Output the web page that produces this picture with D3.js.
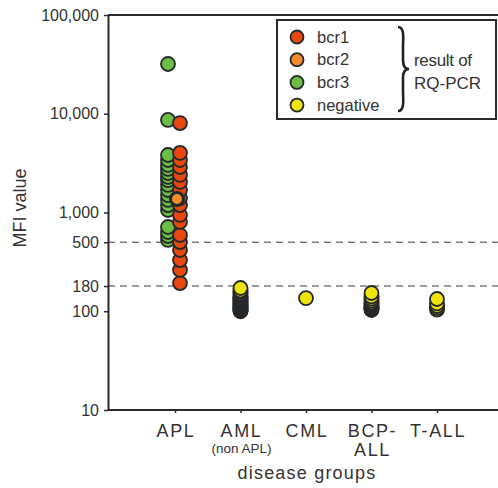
<!DOCTYPE html>
<html>
<head>
<meta charset="utf-8">
<script src="https://cdn.jsdelivr.net/npm/d3@7"></script>
<style>
  body { margin: 0; background: #fff; }
  svg { font-family: "Liberation Sans", Arial, sans-serif; }
</style>
</head>
<body>
<script>
// groups on the x axis
var groups = ["APL", "AML", "CML", "BCP-ALL", "T-ALL"];
var groupLine1 = ["APL", "AML", "CML", "BCP-", "T-ALL"];
var groupLine2 = ["", "(non APL)", "", "ALL", ""];

var yTicks = [10, 100, 180, 500, 1000, 10000, 100000];
var cutoffs = [180, 500];

// MFI values
var aplBcr3 = [31900, 8650, 3820, 3400, 3030, 2760, 2510, 2290, 2130, 1900, 1690, 1500, 1340, 1190, 1060, 713, 635, 578, 527];
var aplBcr1 = [8050, 4010, 3400, 2890, 2400, 2040, 1690, 1400, 1190, 944, 802, 592, 502, 417, 330, 262, 193];
var aplBcr2 = [1370];
var amlNeg = [100, 101, 103, 104, 106, 107, 109, 111, 113, 115, 117, 120, 122, 125, 128, 131, 134, 138, 142, 146, 151, 156, 162, 172];
var cmlNeg = [136];
var bcpNeg = [103, 105, 107, 108, 110, 113, 116, 119, 123, 128, 134, 141, 153];
var tallNeg = [104, 108, 113, 120, 133];

var legendNames = ["bcr1", "bcr2", "bcr3", "negative"];

var colors = {bcr1: "#e8470e", bcr2: "#f08c2a", bcr3: "#6cbd43", negative: "#efe40c"};

var width = 498, height = 488;
var mLeft = 108, mTop = 15, mBottom = 410;

var svg = d3.select("body").append("svg")
  .attr("width", width)
  .attr("height", height);

var y = d3.scaleLog().domain([10, 100000]).range([mBottom, mTop]);
var x = d3.scalePoint().domain(groups).range([175, 437]);

// dashed cut-off lines
svg.selectAll(".cut")
  .data(cutoffs)
  .enter()
  .append("line")
  .attr("x1", mLeft)
  .attr("x2", width)
  .attr("y1", function(d) { return y(d); })
  .attr("y2", function(d) { return y(d); })
  .attr("stroke", "#7a7a7a")
  .attr("stroke-width", 1.4)
  .attr("stroke-dasharray", "7,5");

// frame: top line
svg.append("line")
  .attr("x1", mLeft).attr("x2", width)
  .attr("y1", mTop).attr("y2", mTop)
  .attr("stroke", "#2b2b2b").attr("stroke-width", 2);

var yAxis = d3.axisLeft(y)
  .tickValues(yTicks)
  .tickFormat(d3.format(","))
  .tickSize(4)
  .tickPadding(5)
  .tickSizeOuter(0);

var gy = svg.append("g")
  .attr("transform", "translate(" + mLeft + ",0)")
  .call(yAxis);
gy.select(".domain").attr("stroke", "#2b2b2b").attr("stroke-width", 2);
gy.selectAll(".tick line").attr("stroke", "#2b2b2b").attr("stroke-width", 1.5);
gy.selectAll(".tick text")
  .attr("fill", "#333")
  .style("font-size", "16px")
  .style("font-family", "Liberation Sans, Arial, sans-serif");

var xAxis = d3.axisBottom(x).tickSize(3).tickFormat("");
var gx = svg.append("g")
  .attr("transform", "translate(0," + mBottom + ")")
  .call(xAxis);
gx.select(".domain").attr("d", "M" + mLeft + ",0H" + width).attr("stroke", "#2b2b2b").attr("stroke-width", 2);
gx.selectAll(".tick line").attr("stroke", "#2b2b2b").attr("stroke-width", 1.5);

// x labels
svg.selectAll(".xl1")
  .data(groups)
  .enter()
  .append("text")
  .attr("x", function(d) { return x(d) + 1; })
  .attr("y", 437)
  .attr("text-anchor", "middle")
  .attr("fill", "#333")
  .style("font-size", "18px")
  .style("letter-spacing", "1.6px")
  .text(function(d, i) { return groupLine1[i]; });

svg.selectAll(".xl2")
  .data(groups)
  .enter()
  .append("text")
  .attr("x", function(d) { return x(d) + 1; })
  .attr("y", function(d, i) { return i == 1 ? 453 : 456; })
  .attr("text-anchor", "middle")
  .attr("fill", "#333")
  .style("font-size", function(d, i) { return i == 1 ? "13.5px" : "18px"; })
  .style("letter-spacing", function(d, i) { return i == 1 ? "0px" : "1.6px"; })
  .text(function(d, i) { return groupLine2[i]; });

svg.append("text")
  .attr("x", 307)
  .attr("y", 479)
  .attr("text-anchor", "middle")
  .attr("fill", "#333")
  .style("font-size", "18px")
  .style("letter-spacing", "1.2px")
  .text("disease groups");

svg.append("text")
  .attr("transform", "translate(26,208) rotate(-90)")
  .attr("text-anchor", "middle")
  .attr("fill", "#333")
  .style("font-size", "18px")
  .text("MFI value");

// points
function drawPoints(values, group, type, dx) {
  var sorted = values.slice().sort(function(a, b) { return a - b; });
  svg.append("g").selectAll("circle")
    .data(sorted)
    .enter()
    .append("circle")
    .attr("cx", x(group) + dx)
    .attr("cy", function(d) { return y(d); })
    .attr("r", 7)
    .attr("fill", colors[type])
    .attr("stroke", "#24282b")
    .attr("stroke-width", 1.8);
}

drawPoints(aplBcr3, "APL", "bcr3", -7);
drawPoints(aplBcr1, "APL", "bcr1", 5);
drawPoints(amlNeg, "AML", "negative", 0);
drawPoints(cmlNeg, "CML", "negative", 0);
drawPoints(bcpNeg, "BCP-ALL", "negative", 0);
drawPoints(tallNeg, "T-ALL", "negative", 0);

// bcr2 drawn on top with a heavier ring
svg.append("g").selectAll("circle")
  .data(aplBcr2)
  .enter()
  .append("circle")
  .attr("cx", x("APL") + 2)
  .attr("cy", function(d) { return y(d); })
  .attr("r", 6.5)
  .attr("fill", colors.bcr2)
  .attr("stroke", "#24282b")
  .attr("stroke-width", 3);

// legend
var lg = svg.append("g");
lg.append("rect")
  .attr("x", 277).attr("y", 20)
  .attr("width", 219).attr("height", 99)
  .attr("fill", "#fff")
  .attr("stroke", "#2b2b2b")
  .attr("stroke-width", 2);

var items = lg.selectAll(".item")
  .data(legendNames)
  .enter()
  .append("g")
  .attr("transform", function(d, i) { return "translate(297," + (37 + i * 22.7) + ")"; });

items.append("circle")
  .attr("r", 6.5)
  .attr("fill", function(d) { return colors[d]; })
  .attr("stroke", "#24282b")
  .attr("stroke-width", 1.8);

items.append("text")
  .attr("x", 20)
  .attr("y", 5.5)
  .attr("fill", "#333")
  .style("font-size", "16.5px")
  .text(function(d) { return d; });

// curly brace
var bx = 398, by0 = 27, by1 = 111, bm = 69, tip = 409;
lg.append("path")
  .attr("d",
    "M" + bx + "," + by0 +
    " C" + (bx + 7) + "," + by0 + " " + (bx + 5) + "," + (by0 + 12) + " " + (bx + 5) + "," + (by0 + 20) +
    " L" + (bx + 5) + "," + (bm - 9) +
    " C" + (bx + 5) + "," + (bm - 2) + " " + (tip - 3) + "," + bm + " " + tip + "," + bm +
    " C" + (tip - 3) + "," + bm + " " + (bx + 5) + "," + (bm + 2) + " " + (bx + 5) + "," + (bm + 9) +
    " L" + (bx + 5) + "," + (by1 - 20) +
    " C" + (bx + 5) + "," + (by1 - 12) + " " + (bx + 7) + "," + by1 + " " + bx + "," + by1)
  .attr("fill", "none")
  .attr("stroke", "#222")
  .attr("stroke-width", 2.6);

lg.append("text")
  .attr("x", 414).attr("y", 66)
  .attr("fill", "#333")
  .style("font-size", "17px")
  .style("letter-spacing", "-0.3px")
  .text("result of");

lg.append("text")
  .attr("x", 414).attr("y", 89)
  .attr("fill", "#333")
  .style("font-size", "17px")
  .text("RQ-PCR");
</script>
</body>
</html>
